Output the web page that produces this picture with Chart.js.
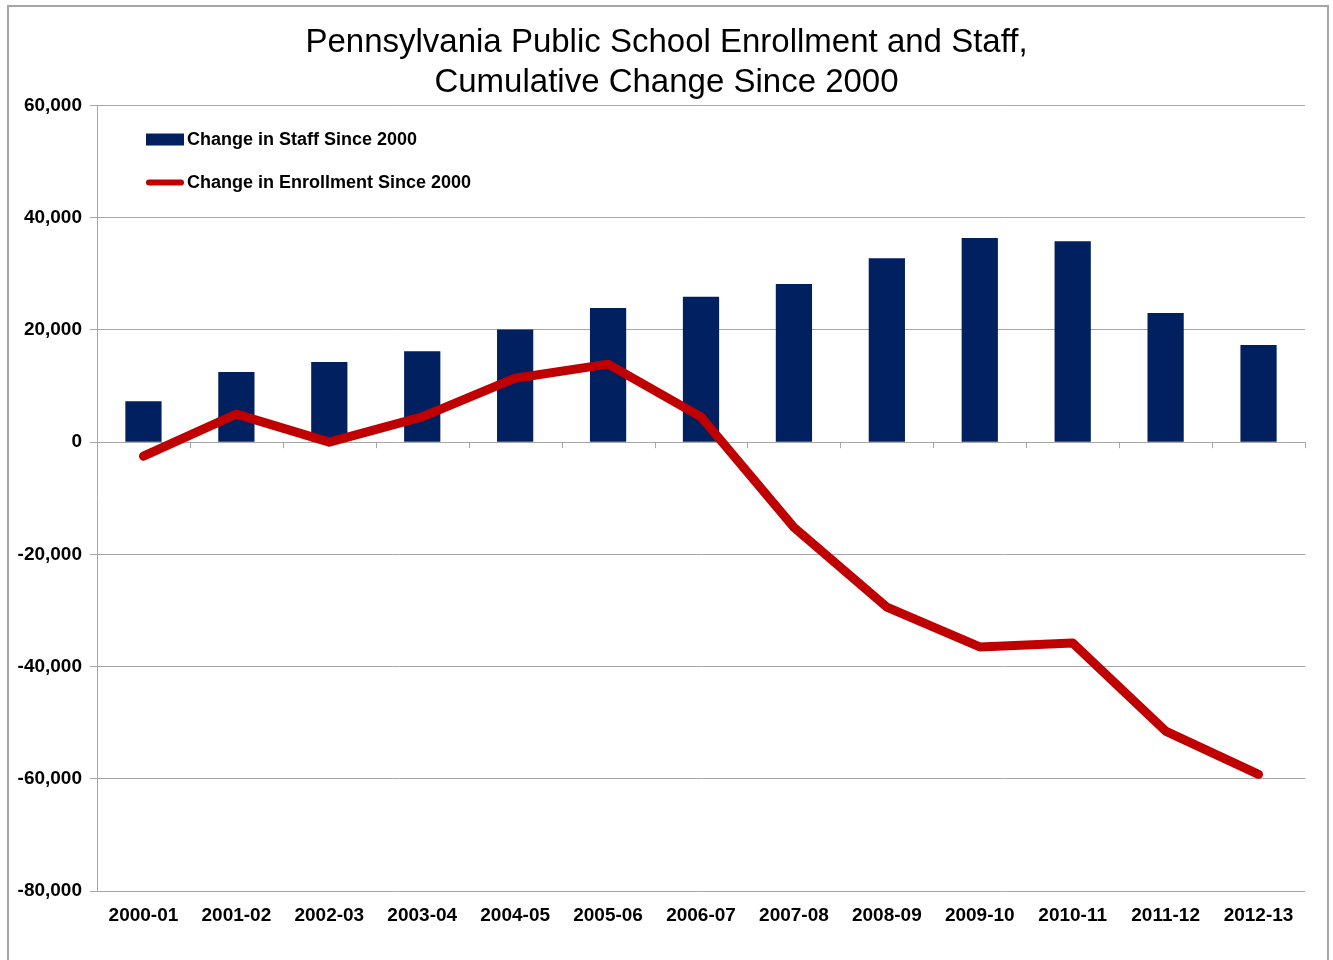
<!DOCTYPE html>
<html>
<head>
<meta charset="utf-8">
<script src="https://cdn.jsdelivr.net/npm/chart.js@4"></script>
<style>
  html, body { margin: 0; padding: 0; background: #fff; }
  #wrap { position: relative; width: 1333px; height: 960px; overflow: hidden; }
  #frame { position: absolute; left: 7px; top: 5px; width: 1318px; height: 970px; border: 2px solid #a6a6a6; }
  canvas { position: absolute; left: 0; top: 0; }
</style>
</head>
<body>
<div id="wrap">
  <div id="frame"></div>
  <canvas id="chart" width="1333" height="960"></canvas>
</div>
<script>
// school years on the category axis
const categories = ['2000-01', '2001-02', '2002-03', '2003-04', '2004-05', '2005-06', '2006-07',
  '2007-08', '2008-09', '2009-10', '2010-11', '2011-12', '2012-13'];

// cumulative change in staff since 2000 (bars)
const staffChange = [7300, 12500, 14300, 16200, 20100, 23900, 25900, 28200, 32800, 36400, 35800, 23000, 17300];

// cumulative change in enrollment since 2000 (line)
const enrollmentChange = [-2500, 5000, 0, 4500, 11400, 13900, 4500, -15200, -29400, -36500, -35800, -51500, -59200];

const seriesLabels = ['Change in Staff Since 2000', 'Change in Enrollment Since 2000'];
const titleLines = ['Pennsylvania Public School Enrollment and Staff,', 'Cumulative Change Since 2000'];

const yMin = -80000;
const yMax = 60000;
const yStep = 20000;

const COLORS = {
  staff: '#002060',
  enrollment: '#c00000',
  grid: '#a6a6a6',
  text: '#000000'
};

const FONT = "'Liberation Sans', Arial, sans-serif";

// centre the title over the framed area rather than the whole canvas
const centerTitle = {
  id: 'centerTitle',
  afterLayout(chart) {
    if (chart.titleBlock) {
      chart.titleBlock.left = 28;
      chart.titleBlock.width = chart.titleBlock.right - 28;
    }
  }
};

// small tick marks on the zero line between categories (Excel category axis)
const zeroAxisTicks = {
  id: 'zeroAxisTicks',
  beforeDatasetsDraw(chart) {
    const { ctx } = chart;
    const x = chart.scales.x;
    const y0 = chart.scales.y.getPixelForValue(0);
    const half = (x.getPixelForValue(1) - x.getPixelForValue(0)) / 2;
    ctx.save();
    ctx.strokeStyle = COLORS.grid;
    ctx.lineWidth = 1;
    ctx.beginPath();
    for (let i = 0; i <= categories.length; i++) {
      const px = Math.round(x.getPixelForValue(i) - half) + 0.5;
      ctx.moveTo(px, y0);
      ctx.lineTo(px, y0 + 6);
    }
    ctx.stroke();
    ctx.restore();
  }
};

// legend drawn inside the plot, top-left, like the original
const insideLegend = {
  id: 'insideLegend',
  afterDraw(chart) {
    const { ctx, chartArea } = chart;
    const x0 = chartArea.left + 49;
    const rows = [chartArea.top + 34, chartArea.top + 77];
    ctx.save();
    ctx.font = 'bold 18px ' + FONT;
    ctx.textBaseline = 'middle';
    chart.data.datasets.forEach((ds, i) => {
      const y = rows[i];
      if (ds.type === 'line') {
        ctx.strokeStyle = ds.borderColor;
        ctx.lineWidth = 6;
        ctx.lineCap = 'round';
        ctx.beginPath();
        ctx.moveTo(x0 + 3, y);
        ctx.lineTo(x0 + 35, y);
        ctx.stroke();
      } else {
        ctx.fillStyle = ds.backgroundColor;
        ctx.fillRect(x0, y - 6, 38, 12);
      }
      ctx.fillStyle = COLORS.text;
      ctx.fillText(ds.label, x0 + 41, y + 1);
    });
    ctx.restore();
  }
};

new Chart(document.getElementById('chart'), {
  data: {
    labels: categories,
    datasets: [
      {
        type: 'bar',
        label: seriesLabels[0],
        data: staffChange,
        backgroundColor: COLORS.staff,
        borderWidth: 0,
        barPercentage: 0.39,
        categoryPercentage: 1,
        order: 2
      },
      {
        type: 'line',
        label: seriesLabels[1],
        data: enrollmentChange,
        borderColor: COLORS.enrollment,
        backgroundColor: COLORS.enrollment,
        borderWidth: 9,
        borderCapStyle: 'round',
        borderJoinStyle: 'round',
        pointRadius: 0,
        tension: 0,
        order: 1
      }
    ]
  },
  options: {
    responsive: false,
    animation: false,
    layout: { padding: { top: 4, left: 0, right: 28, bottom: 0 } },
    plugins: {
      legend: { display: false },
      tooltip: { enabled: false },
      title: {
        display: true,
        text: titleLines,
        color: COLORS.text,
        font: { family: FONT, size: 33, weight: 'normal', lineHeight: 1.22 },
        padding: { top: 19, bottom: 2 }
      }
    },
    scales: {
      x: {
        grid: { display: false },
        border: { display: false },
        ticks: {
          color: COLORS.text,
          font: { family: FONT, size: 19, weight: 'bold' },
          padding: 5,
          maxRotation: 0
        },
        afterFit: (scale) => { scale.height = 69; }
      },
      y: {
        min: yMin,
        max: yMax,
        ticks: {
          stepSize: yStep,
          color: COLORS.text,
          font: { family: FONT, size: 19, weight: 'bold' },
          padding: 8,
          callback: (v) => v.toLocaleString('en-US')
        },
        grid: { color: COLORS.grid, lineWidth: 1, tickLength: 7 },
        border: { display: true, color: COLORS.grid },
        afterFit: (scale) => { scale.width = 97; }
      }
    }
  },
  plugins: [centerTitle, zeroAxisTicks, insideLegend]
});
</script>
</body>
</html>
